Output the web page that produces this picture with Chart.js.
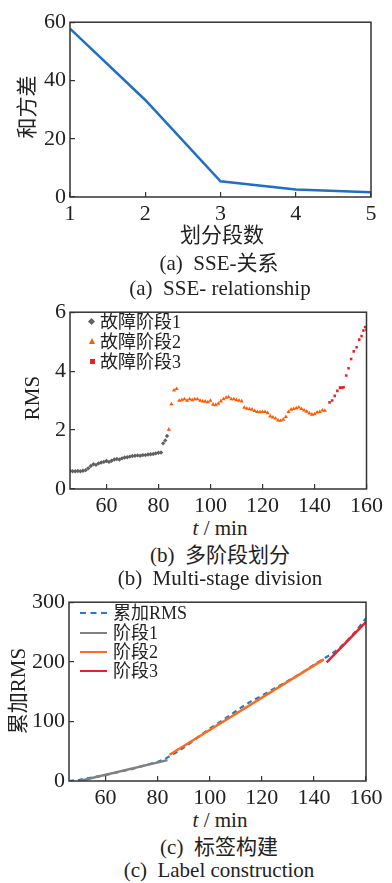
<!DOCTYPE html>
<html lang="zh">
<head>
<meta charset="UTF-8">
<title>SSE / RMS stages</title>
<script src="https://cdn.jsdelivr.net/npm/chart.js"></script>
<style>
  body { margin: 0; background: #fff; }
  #wrap { position: relative; width: 392px; height: 883px; overflow: hidden;
          font-family: "Liberation Serif", "Times New Roman", "Noto Sans CJK SC", serif; color: #222; }
  canvas { position: absolute; left: 0; }
  .t { position: absolute; white-space: pre; font-size: 21px; line-height: 1;
       transform: translate(-50%, -50%); z-index: 2; }
  .yt { transform: translate(-50%, -50%) rotate(-90deg); }
  .lg { position: absolute; white-space: nowrap; font-size: 18px; line-height: 1;
        transform: translateY(-50%); z-index: 2; }
  .mk { position: absolute; z-index: 2; }
</style>
</head>
<body>
<div id="wrap">
  <canvas id="c1" width="392" height="225" style="top:0"></canvas>
  <canvas id="c2" width="392" height="225" style="top:290px"></canvas>
  <canvas id="c3" width="392" height="225" style="top:580px"></canvas>

  <div class="t yt" style="left:27px;top:107px">和方差</div>
  <div class="t" style="left:222px;top:235px">划分段数</div>
  <div class="t" style="left:219px;top:263px">(a)  SSE-关系</div>
  <div class="t" style="left:220px;top:288px">(a)  SSE- relationship</div>

  <div class="t yt" style="left:32px;top:398px">RMS</div>
  <div class="t" style="left:220px;top:528px"><i>t</i> / min</div>
  <div class="t" style="left:220px;top:555px">(b)  多阶段划分</div>
  <div class="t" style="left:220px;top:578px">(b)  Multi-stage division</div>

  <div class="t yt" style="left:18px;top:691px">累加RMS</div>
  <div class="t" style="left:220px;top:820px"><i>t</i> / min</div>
  <div class="t" style="left:219px;top:847px">(c)  标签构建</div>
  <div class="t" style="left:219px;top:870px">(c)  Label construction</div>

  <!-- legend (b) -->
  <div class="mk" style="left:89px;top:319px;width:5px;height:5px;background:#606060;transform:rotate(45deg)"></div>
  <div class="lg" style="left:100px;top:322px">故障阶段1</div>
  <div class="mk" style="left:89px;top:338px;width:0;height:0;border-left:3.5px solid transparent;border-right:3.5px solid transparent;border-bottom:6px solid #ff5a00"></div>
  <div class="lg" style="left:100px;top:342px">故障阶段2</div>
  <div class="mk" style="left:90px;top:359px;width:5px;height:5px;background:#e82222"></div>
  <div class="lg" style="left:100px;top:362px">故障阶段3</div>

  <!-- legend (c) -->
  <div class="mk" style="left:80px;top:612px;width:27px;border-top:2.5px dashed #2a78c8"></div>
  <div class="lg" style="left:113px;top:613px">累加RMS</div>
  <div class="mk" style="left:80px;top:632px;width:27px;border-top:2.5px solid #808080"></div>
  <div class="lg" style="left:113px;top:633px">阶段1</div>
  <div class="mk" style="left:80px;top:651px;width:27px;border-top:2.5px solid #ff6b1a"></div>
  <div class="lg" style="left:113px;top:652px">阶段2</div>
  <div class="mk" style="left:80px;top:670px;width:27px;border-top:2.5px solid #e8222a"></div>
  <div class="lg" style="left:113px;top:671px">阶段3</div>
</div>

<script>
// (a) SSE vs number of segments
const segCounts = [1, 2, 3, 4, 5];
const sseValues = [57.8, 33.3, 5.4, 2.6, 1.6];

// (b) RMS per stage
const stage1T = [46, 47, 48, 49, 50, 51, 52, 53, 54, 55, 56, 57, 58, 59, 60, 61, 62, 63, 64, 65,
                 66, 67, 68, 69, 70, 71, 72, 73, 74, 75, 76, 77, 78, 79, 80, 81, 81.8, 82.6, 83.3];
const stage1V = [0.62, 0.6, 0.6, 0.61, 0.6, 0.62, 0.64, 0.7, 0.78, 0.84, 0.82, 0.87, 0.9, 0.92, 0.95, 0.92, 0.96, 1.0, 1.02, 1.0,
                 1.04, 1.07, 1.08, 1.1, 1.12, 1.13, 1.14, 1.13, 1.15, 1.15, 1.17, 1.18, 1.19, 1.21, 1.23, 1.24, 1.55, 1.65, 1.8];
const stage2T = [84, 85, 86, 87, 88, 89, 90, 91, 92, 93, 94, 95, 96, 97, 98, 99, 100, 101, 102, 103,
                 104, 105, 106, 107, 108, 109, 110, 111, 112, 113, 114, 115, 116, 117, 118, 119, 120, 121, 122, 123,
                 124, 125, 126, 127, 128, 129, 130, 131, 132, 133, 134, 135, 136, 137, 138, 139, 140, 141, 142, 143, 144];
const stage2V = [2.02, 2.88, 3.35, 3.4, 3.0, 3.02, 3.05, 3.0, 3.05, 3.02, 3.05, 3.05, 3.0, 2.98, 2.97, 2.95, 3.0, 2.87, 2.85, 2.9,
                 2.98, 3.05, 3.1, 3.12, 3.05, 3.05, 3.02, 3.0, 2.98, 2.76, 2.73, 2.71, 2.7, 2.65, 2.62, 2.61, 2.62, 2.62, 2.58, 2.47,
                 2.43, 2.4, 2.33, 2.32, 2.36, 2.45, 2.62, 2.7, 2.72, 2.74, 2.77, 2.72, 2.67, 2.63, 2.57, 2.53, 2.54, 2.6, 2.62, 2.67, 2.66];
const stage3T = [145.8, 146.8, 147.8, 148.8, 149.8, 150.6, 151.2, 152.2, 153.1, 154.1, 155.1, 156.2, 157.2, 158.1, 158.8, 159.5, 160];
const stage3V = [2.94, 3.0, 3.16, 3.33, 3.44, 3.44, 3.45, 3.85, 4.1, 4.41, 4.67, 4.81, 5.07, 5.19, 5.38, 5.5, 5.4];

// (c) cumulative RMS and fitted stage lines
const cumT = [46, 50, 55, 60, 65, 70, 75, 80, 83, 84, 88, 92, 96, 100, 104, 108, 112, 116, 120,
              124, 128, 132, 136, 140, 144, 146, 148, 150, 152, 154, 156, 158, 160];
const cumV = [0, 2, 6, 10, 15, 20, 26, 32, 37, 40, 50, 62, 75, 88, 99, 111, 123, 134, 143,
              153, 163, 173, 183, 195, 206, 211, 217, 224, 232, 241, 251, 262, 273];
const fit1T = [50, 83.8], fit1V = [0, 35];
const fit2T = [84.6, 143.8], fit2V = [44, 204];
const fit3T = [144.9, 160], fit3V = [199, 267];

const pts = (xs, ys) => xs.map((x, i) => ({ x: x, y: ys[i] }));

const frame = {
  id: 'frame',
  afterDraw(chart) {
    const a = chart.chartArea, c = chart.ctx;
    c.save();
    c.strokeStyle = '#333';
    c.lineWidth = 1.5;
    c.strokeRect(a.left, a.top, a.right - a.left, a.bottom - a.top);
    c.restore();
  }
};

function axis(min, max, step, size) {
  return {
    type: 'linear', min: min, max: max,
    ticks: { stepSize: step, includeBounds: false, color: '#222', padding: 9,
             font: { family: "'Liberation Serif', 'Times New Roman', serif", size: 22 } },
    grid: { drawOnChartArea: false, tickLength: -5, color: '#333', lineWidth: 1.2 },
    border: { display: false },
    afterFit(s) { if (s.isHorizontal()) s.height = size; else s.width = size; }
  };
}

function base(padRight, xAxis, yAxis) {
  return {
    responsive: false, animation: false,
    layout: { padding: { top: 16, right: padRight, bottom: 0, left: 0 } },
    plugins: { legend: { display: false }, tooltip: { enabled: false } },
    scales: { x: xAxis, y: yAxis }
  };
}

new Chart(document.getElementById('c1'), {
  type: 'line',
  data: { datasets: [{ data: pts(segCounts, sseValues), borderColor: '#1f6fc5', borderWidth: 2.5,
                       pointRadius: 0, tension: 0 }] },
  options: (() => { const o = base(21, axis(1, 5, 1, 28), axis(0, 60, 20, 70));
                    o.layout.padding.top = 17; return o; })(),
  plugins: [frame]
});

new Chart(document.getElementById('c2'), {
  type: 'scatter',
  data: { datasets: [
    { data: pts(stage1T, stage1V), pointStyle: 'rectRot', pointRadius: 2.2, backgroundColor: '#606060', borderWidth: 0 },
    { data: pts(stage2T, stage2V), pointStyle: 'triangle', pointRadius: 2.4, backgroundColor: '#ff5a00', borderWidth: 0 },
    { data: pts(stage3T, stage3V), pointStyle: 'rect', pointRadius: 1.8, backgroundColor: '#e82222', borderWidth: 0 }
  ] },
  options: base(20, axis(46, 160, 20, 26), axis(0, 6, 2, 70)),
  plugins: [frame]
});

new Chart(document.getElementById('c3'), {
  type: 'line',
  data: { datasets: [
    { data: pts(cumT, cumV), borderColor: '#2a78c8', borderWidth: 2.2, borderDash: [5, 4], pointRadius: 0, order: 5 },
    { data: pts(fit1T, fit1V), borderColor: '#808080', borderWidth: 2.5, pointRadius: 0, order: 1 },
    { data: pts(fit2T, fit2V), borderColor: '#ff6b1a', borderWidth: 2.5, pointRadius: 0, order: 1 },
    { data: pts(fit3T, fit3V), borderColor: '#e8222a', borderWidth: 2.5, pointRadius: 0, order: 1 }
  ] },
  options: base(26, axis(46, 160, 20, 24), axis(0, 300, 100, 69)),
  plugins: [frame]
});
</script>
</body>
</html>
